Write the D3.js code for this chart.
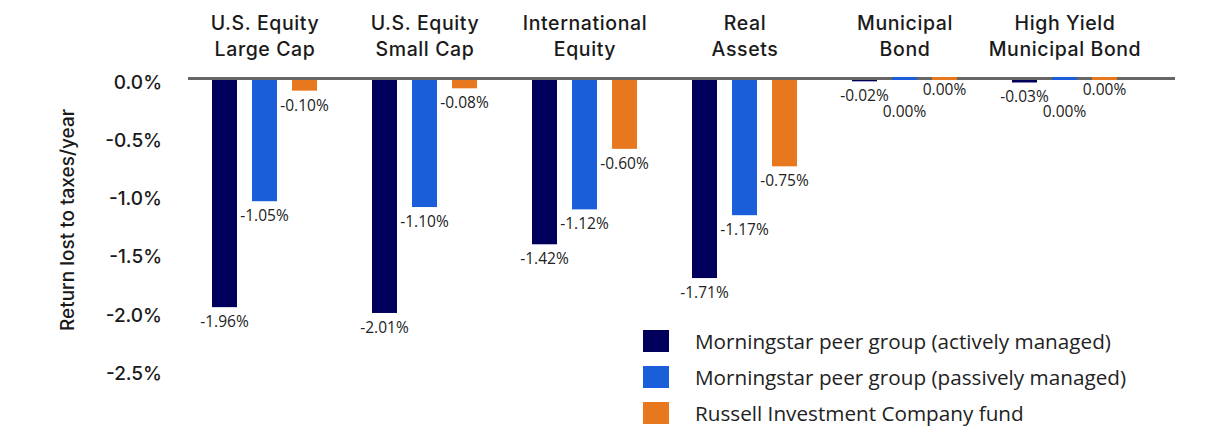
<!DOCTYPE html>
<html lang="en">
<head>
    <meta charset="UTF-8">
    <title>Return lost to taxes</title>
    <style>
        body {
            margin: 0;
            background: #fff;
        }

        .cat, .tick text, .ytitle {
            font-family: Inter, "Noto Sans", sans-serif;
            font-weight: 500;
            fill: #1a1a1a;
        }

        .cat {
            letter-spacing: 0.6px;
        }

        .val, .legend text {
            font-family: "Open Sans", "Noto Sans", sans-serif;
            fill: #222;
        }
    </style>
</head>

<body>
    <svg id="chart"></svg>
</body>

<script src="https://cdn.jsdelivr.net/npm/d3@7"></script>

<script>
    // data
    let categories = [
        ["U.S. Equity", "Large Cap"],
        ["U.S. Equity", "Small Cap"],
        ["International", "Equity"],
        ["Real", "Assets"],
        ["Municipal", "Bond"],
        ["High Yield", "Municipal Bond"]
    ]
    let seriesNames = [
        "Morningstar peer group (actively managed)",
        "Morningstar peer group (passively managed)",
        "Russell Investment Company fund"
    ]
    let activeValues = [-1.96, -2.01, -1.42, -1.71, -0.02, -0.03]
    let passiveValues = [-1.05, -1.10, -1.12, -1.17, 0.00, 0.00]
    let russellValues = [-0.10, -0.08, -0.60, -0.75, 0.00, 0.00]
    let yTicks = [0, -0.5, -1.0, -1.5, -2.0, -2.5]

    let colors = ["#00005c", "#1a5fd9", "#e8781e"]

    let width = 1225;
    let height = 445;

    let svg = d3.select("#chart")
        .attr("width", width)
        .attr("height", height)

    let allSeries = [activeValues, passiveValues, russellValues]
    let rows = []
    categories.forEach((c, i) => {
        allSeries.forEach((s, j) => {
            rows.push({ cat: i, series: j, value: s[i] })
        })
    })

    // plain hyphen instead of d3's unicode minus
    let pct = (f) => (d) => d3.format(f)(d).replace("\u2212", "-") + "%"

    let xScale = d3.scaleBand()
        .domain(d3.range(categories.length))
        .range([184.5, 1144.5])

    let xSub = d3.scaleBand()
        .domain(d3.range(seriesNames.length))
        .range([20, 140])
        .paddingInner(0.375)
        .paddingOuter(0.1875)

    let yScale = d3.scaleLinear()
        .domain([0, -2.5])
        .range([79, 370])

    // y axis
    let yAxis = svg.append("g")
        .attr("transform", "translate(162,0)")
        .call(d3.axisLeft(yScale).tickValues(yTicks).tickSize(0).tickPadding(0)
            .tickFormat(pct(".1f")))
    yAxis.select(".domain").remove()
    yAxis.selectAll("text")
        .attr("font-size", 19)
        .attr("dy", "0.38em")
        .attr("y", 2)

    svg.append("text")
        .attr("class", "ytitle")
        .attr("transform", `translate(74,220) rotate(-90)`)
        .attr("text-anchor", "middle")
        .attr("font-size", 19)
        .text("Return lost to taxes/year")

    // category labels
    let cats = svg.append("g").selectAll("text")
        .data(categories)
        .join("text")
        .attr("class", "cat")
        .attr("text-anchor", "middle")
        .attr("font-size", 19.5)
        .attr("x", (d, i) => xScale(i) + xScale.bandwidth() / 2 + 0.5)
        .attr("y", 30)
    cats.selectAll("tspan")
        .data(d => d)
        .join("tspan")
        .attr("x", function () { return d3.select(this.parentNode).attr("x") })
        .attr("dy", (d, i) => i === 0 ? 0 : 26)
        .text(d => d)

    let body = svg.append("g")

    // regular bars under the zero line
    body.selectAll("rect.bar")
        .data(rows.filter(d => d.value !== 0))
        .join("rect")
        .attr("class", "bar")
        .attr("x", d => xScale(d.cat) + xSub(d.series))
        .attr("width", xSub.bandwidth())
        .attr("y", yScale(0))
        .attr("height", d => yScale(d.value) - yScale(0))
        .attr("fill", d => colors[d.series])

    // zero line
    svg.append("line")
        .attr("x1", 188)
        .attr("x2", 1175)
        .attr("y1", yScale(0) - 0.5)
        .attr("y2", yScale(0) - 0.5)
        .attr("stroke", "#666")
        .attr("stroke-width", 3)

    // zero value bars drawn over the line
    svg.append("g").selectAll("rect")
        .data(rows.filter(d => d.value === 0))
        .join("rect")
        .attr("x", d => xScale(d.cat) + xSub(d.series))
        .attr("width", xSub.bandwidth())
        .attr("y", yScale(0) - 2)
        .attr("height", 3)
        .attr("fill", d => colors[d.series])

    // value labels
    svg.append("g").selectAll("text")
        .data(rows)
        .join("text")
        .attr("class", "val")
        .attr("text-anchor", "middle")
        .attr("font-size", 15.5)
        .attr("x", d => xScale(d.cat) + xSub(d.series) + xSub.bandwidth() / 2)
        .attr("y", d => {
            let base = yScale(d.value) + 20
            if (d.value === 0 && d.series === 1) base += 18
            if (d.value === 0 && d.series === 2) base -= 4
            return base
        })
        .text(d => pct(".2f")(d.value))

    // legend
    let legend = svg.append("g")
        .attr("class", "legend")
        .attr("transform", "translate(643,330)")
    let items = legend.selectAll("g")
        .data(seriesNames)
        .join("g")
        .attr("transform", (d, i) => `translate(0,${i * 36})`)
    items.append("rect")
        .attr("width", 26)
        .attr("height", 22)
        .attr("fill", (d, i) => colors[i])
    items.append("text")
        .attr("x", 52)
        .attr("y", 19)
        .attr("font-size", 20.7)
        .text(d => d)
</script>

</html>
